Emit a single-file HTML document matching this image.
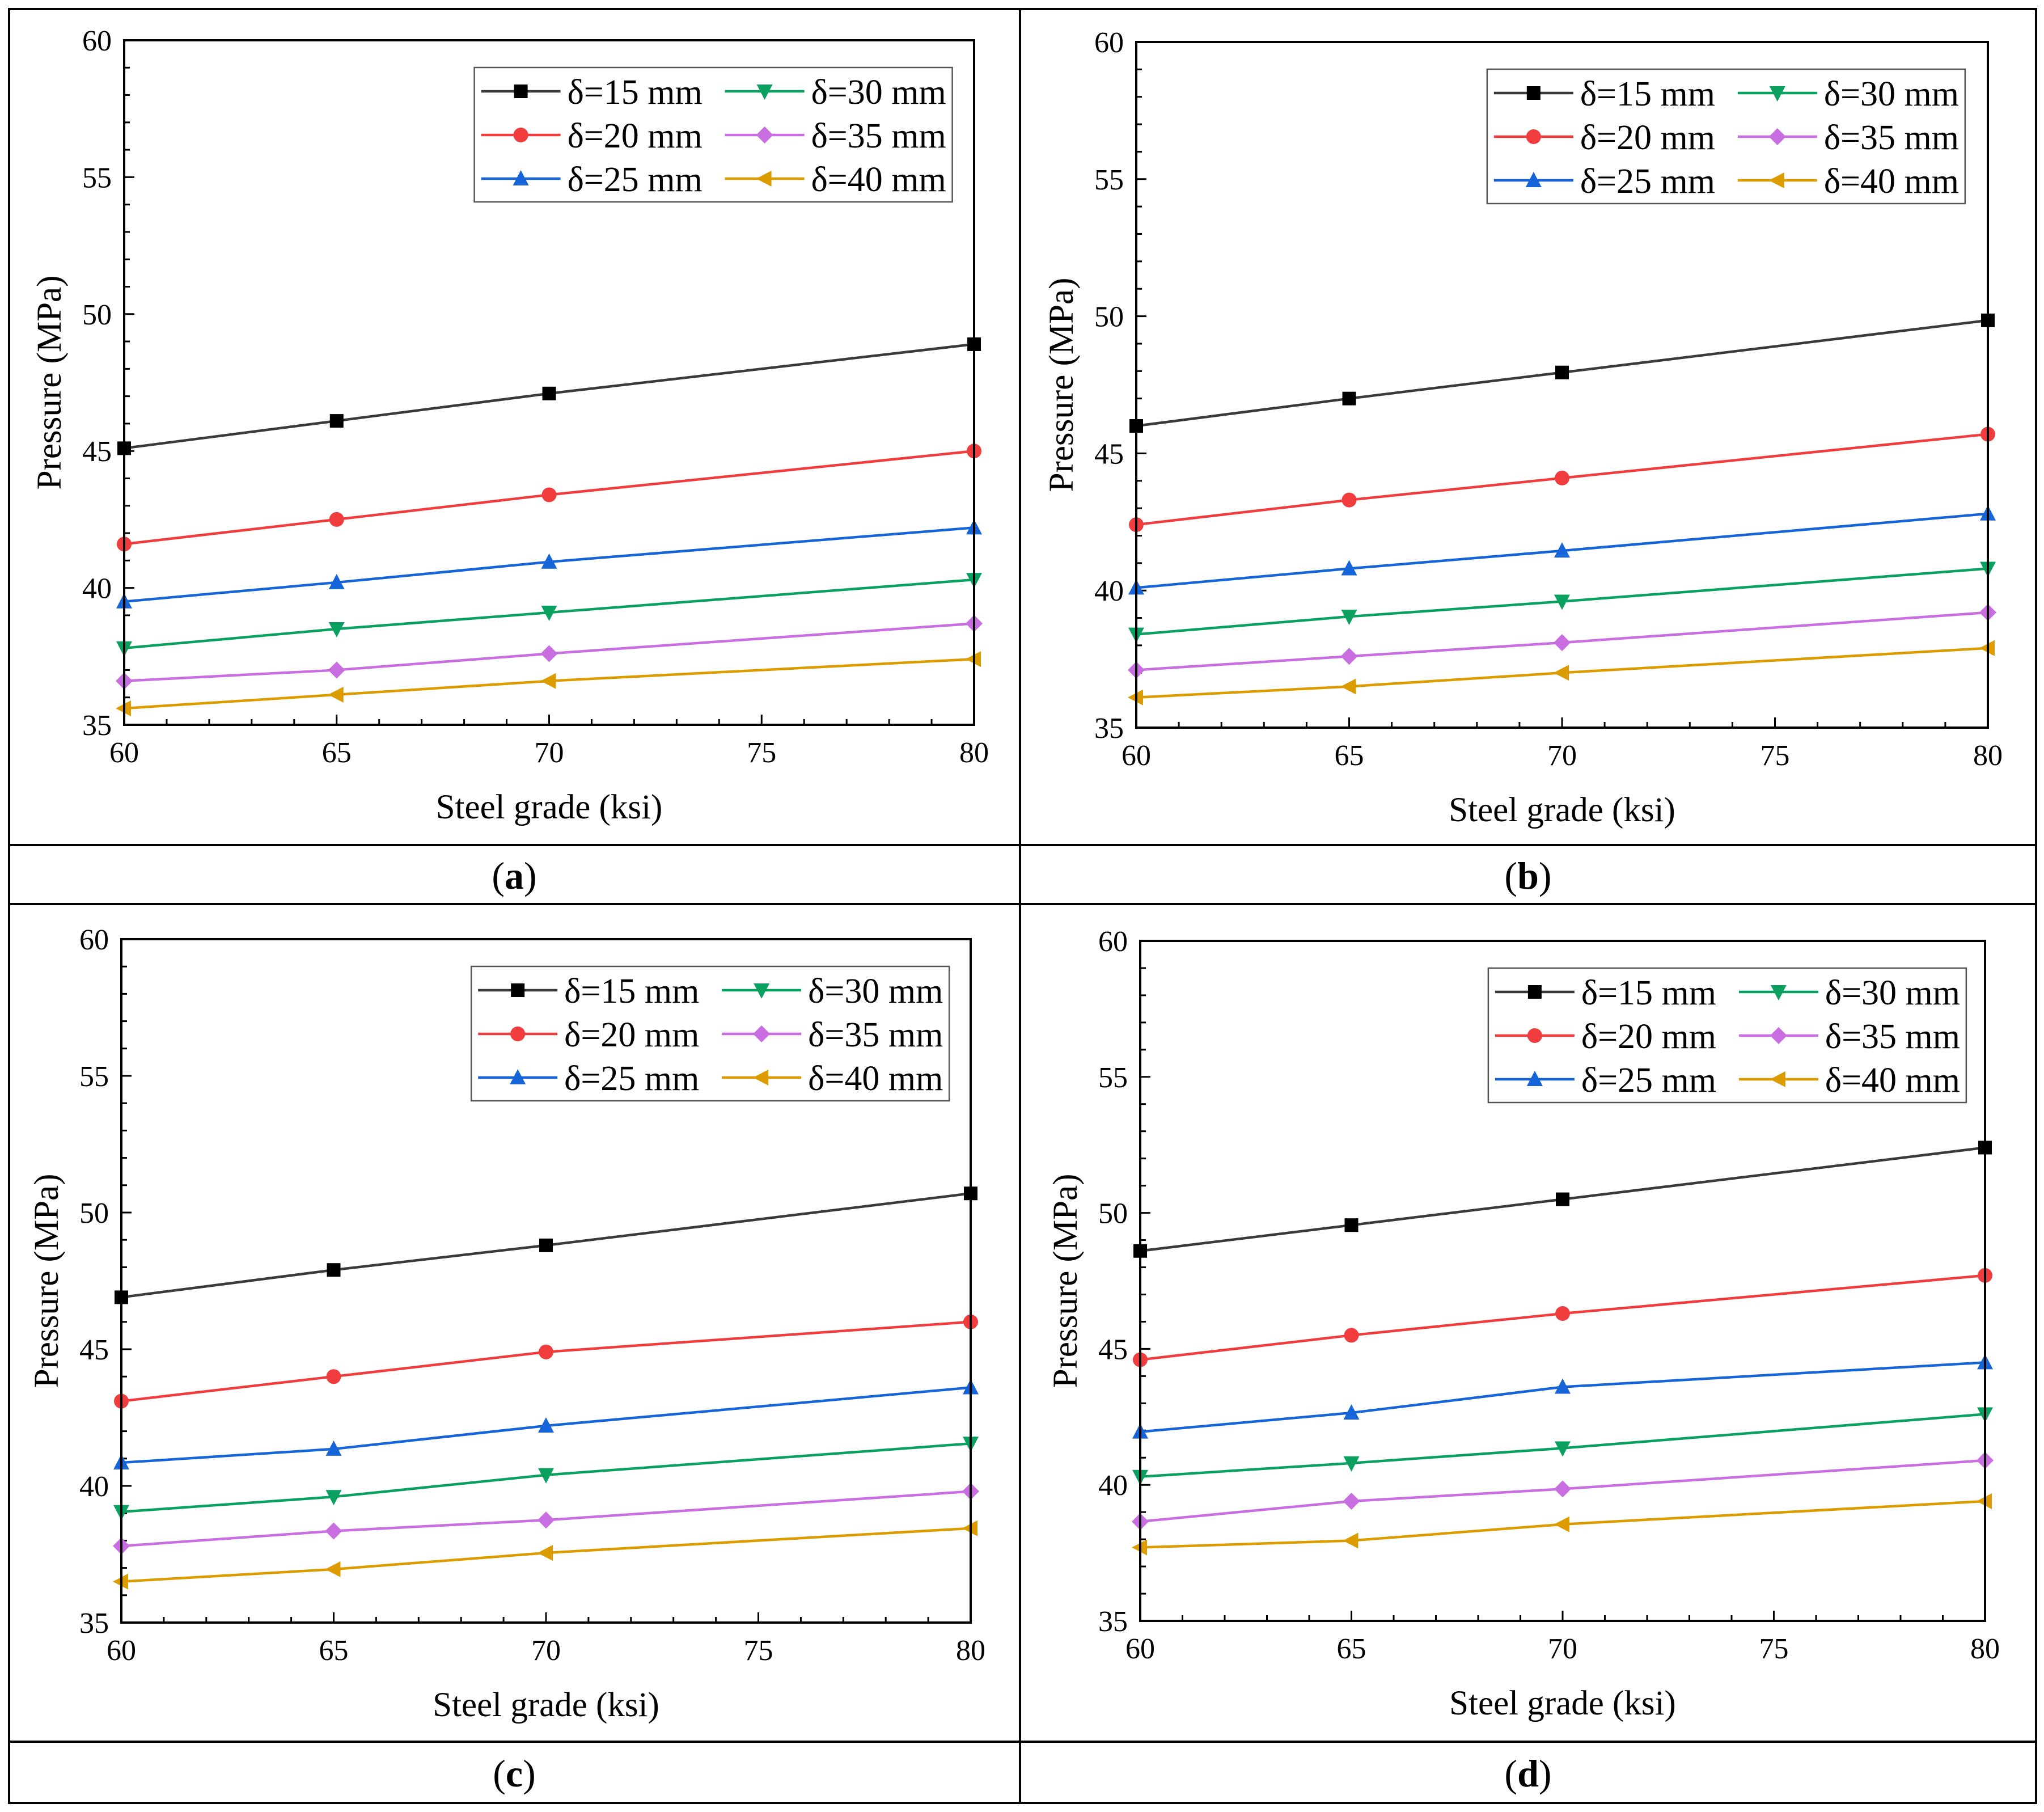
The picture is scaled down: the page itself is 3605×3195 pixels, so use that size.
<!DOCTYPE html>
<html><head><meta charset="utf-8">
<style>
html,body{margin:0;padding:0;background:#fff;}
svg{display:block;font-family:"Liberation Serif",serif;}
svg text{font-family:"Liberation Serif",serif;}
</style></head>
<body>
<svg id="fig" width="3605" height="3195" viewBox="0 0 3605 3195" xmlns="http://www.w3.org/2000/svg">
<rect x="0" y="0" width="3605" height="3195" fill="#fff"/>
<g stroke="#000" stroke-width="4" fill="none">
<rect x="16" y="16" width="3575" height="3163"/>
<line x1="1799" y1="16" x2="1799" y2="3179"/>
<line x1="16" y1="1490" x2="3591" y2="1490"/>
<line x1="16" y1="1594" x2="3591" y2="1594"/>
<line x1="16" y1="3071" x2="3591" y2="3071"/>
</g>
<g font-size="68" text-anchor="middle">
<text x="907" y="1567">(<tspan font-weight="bold">a</tspan>)</text>
<text x="2695" y="1567">(<tspan font-weight="bold">b</tspan>)</text>
<text x="907" y="3150">(<tspan font-weight="bold">c</tspan>)</text>
<text x="2695" y="3150">(<tspan font-weight="bold">d</tspan>)</text>
</g>
</svg>
<script>
const xCats=[60,65,70,80];
const seriesNames=["δ=15 mm","δ=20 mm","δ=25 mm","δ=30 mm","δ=35 mm","δ=40 mm"];
const seriesColors=["#000000","#f03c3c","#1565d8","#0aa060","#c86ee0","#dc9c00"];
const lineColors=["#3a3a3a","#f03c3c","#1565d8","#0aa060","#c86ee0","#dc9c00"];
const seriesMarkers=["square","circle","up","down","diamond","left"];
const xTicks=[60,65,70,75,80];
const yTicks=[35,40,45,50,55,60];
const dataA=[[45.1,46.1,47.1,48.9],[41.6,42.5,43.4,45.0],[39.5,40.2,40.95,42.2],[37.8,38.5,39.1,40.3],[36.6,37.0,37.6,38.7],[35.6,36.1,36.6,37.4]];
const dataB=[[46.0,47.0,47.95,49.85],[42.4,43.3,44.1,45.7],[40.1,40.8,41.45,42.8],[38.4,39.05,39.6,40.8],[37.1,37.6,38.1,39.2],[36.1,36.5,37.0,37.9]];
const dataC=[[46.9,47.9,48.8,50.7],[43.1,44.0,44.9,46.0],[40.85,41.35,42.2,43.6],[39.05,39.6,40.4,41.55],[37.8,38.35,38.75,39.8],[36.5,36.95,37.55,38.45]];
const dataD=[[48.6,49.55,50.5,52.4],[44.6,45.5,46.3,47.7],[41.95,42.65,43.6,44.5],[40.3,40.8,41.35,42.6],[38.65,39.4,39.85,40.9],[37.7,37.95,38.55,39.4]];

const NS="http://www.w3.org/2000/svg";
const svg=document.getElementById('fig');
function mk(tag,attrs,parent){const e=document.createElementNS(NS,tag);for(const k in attrs)e.setAttribute(k,attrs[k]);parent.appendChild(e);return e;}
function marker(g,type,cx,cy,color){
  const s=12;let e;
  if(type==="square")e=mk('rect',{x:cx-s,y:cy-s,width:2*s,height:2*s,fill:color},g);
  else if(type==="circle")e=mk('circle',{cx:cx,cy:cy,r:s+1,fill:color},g);
  else if(type==="up")e=mk('polygon',{points:`${cx},${cy-s-3} ${cx+s+2},${cy+s} ${cx-s-2},${cy+s}`,fill:color},g);
  else if(type==="down")e=mk('polygon',{points:`${cx},${cy+s+3} ${cx+s+2},${cy-s} ${cx-s-2},${cy-s}`,fill:color},g);
  else if(type==="diamond")e=mk('polygon',{points:`${cx},${cy-s-3} ${cx+s+3},${cy} ${cx},${cy+s+3} ${cx-s-3},${cy}`,fill:color},g);
  else e=mk('polygon',{points:`${cx-s-3},${cy} ${cx+s},${cy-s-2} ${cx+s},${cy+s+2}`,fill:color},g);
  
  
}
function panel(id,data,x0,x1,y0,y1){
  const g=mk('g',{},svg);
  
  
  const X=v=>x0+(v-60)/20*(x1-x0);
  const Y=v=>y1-(v-35)/25*(y1-y0);
  for(let v=60;v<=80;v+=1){const maj=(v%5===0);mk('line',{x1:X(v),x2:X(v),y1:y1,y2:y1-(maj?18:10),stroke:'#000','stroke-width':3},g);}
  for(let v=35;v<=60;v+=1){const maj=(v%5===0);mk('line',{x1:x0,x2:x0+(maj?18:10),y1:Y(v),y2:Y(v),stroke:'#000','stroke-width':3},g);}
  xTicks.forEach(v=>{const t=mk('text',{x:X(v),y:y1+66,'font-size':52,'text-anchor':'middle'},g);t.textContent=v;
    
    });
  yTicks.forEach(v=>{const t=mk('text',{x:x0-22,y:Y(v)+18,'font-size':52,'text-anchor':'end'},g);t.textContent=v;
    
    });
  const xt=mk('text',{x:(x0+x1)/2,y:y1+165,'font-size':61,'text-anchor':'middle'},g);xt.textContent="Steel grade (ksi)";
  
  
  const yt=mk('text',{x:0,y:0,'font-size':61,'text-anchor':'middle',transform:`translate(${x0-112},${(y0+y1)/2}) rotate(-90)`},g);yt.textContent="Pressure (MPa)";
  
  
  data.forEach((vals,i)=>{
    const sg=mk('g',{},g);
    
    
    mk('polyline',{points:vals.map((v,j)=>X(xCats[j])+','+Y(v)).join(' '),fill:'none',stroke:lineColors[i],'stroke-width':4.5},sg);
    vals.forEach((v,j)=>marker(sg,seriesMarkers[i],X(xCats[j]),Y(v),seriesColors[i]));
  });
  mk('rect',{x:x0,y:y0,width:x1-x0,height:y1-y0,fill:'none',stroke:'#000','stroke-width':4},g);
  const lx=x0+(x1-x0)*0.412, ly=y0+48, lw=843, lh=237;
  const lg=mk('g',{},g);
  
  
  mk('rect',{x:lx,y:ly,width:lw,height:lh,fill:'#fff',stroke:'#555','stroke-width':2.5},lg);
  seriesNames.forEach((n,i)=>{
    const col=Math.floor(i/3),row=i%3;
    const ex=lx+12+col*430, ey=ly+42+row*77;
    const eg=mk('g',{},lg);
    
    
    mk('line',{x1:ex,x2:ex+140,y1:ey,y2:ey,stroke:lineColors[i],'stroke-width':4.5},eg);
    marker(eg,seriesMarkers[i],ex+70,ey,seriesColors[i]);
    const t=mk('text',{x:ex+152,y:ey+22,'font-size':62},eg);t.textContent=n;
  });
}
panel('a',dataA,219,1718,71,1278);
panel('b',dataB,2004,3506,74,1283);
panel('c',dataC,214,1712,1656,2861);
panel('d',dataD,2011,3501,1659,2858);
</script>
</body></html>
